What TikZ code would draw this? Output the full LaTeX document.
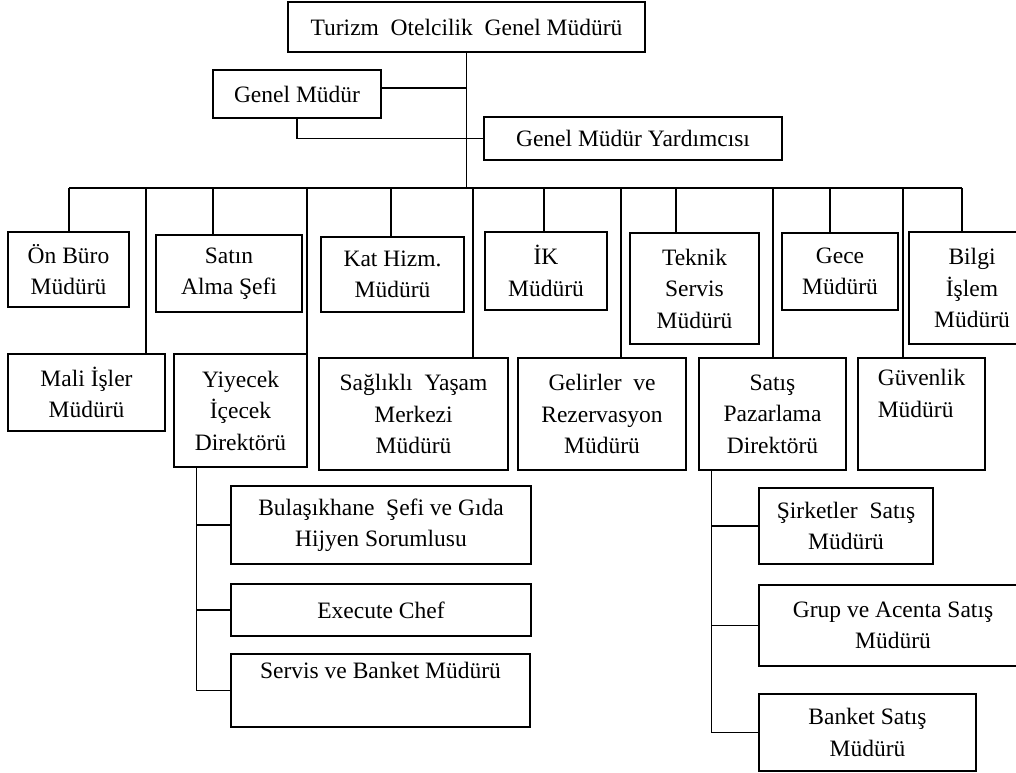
\documentclass[tikz,border=0pt]{standalone}
\usepackage{fontspec}
\setmainfont{Liberation Serif}

\begin{document}
\begin{tikzpicture}[
    x=1pt, y=-1pt,
    unit/.style={draw=black, line width=1.5pt, fill=white, align=center,
        inner sep=2pt, font=\fontsize{23.5}{31.5}\selectfont},
    edge/.style={line width=1.5pt, -}
]
    \useasboundingbox (0,0) rectangle (1016,772);
    \node[unit, minimum width=357pt, minimum height=50pt] (tom) at (466.5,27) {Turizm\ \ Otelcilik\ \ Genel Müdürü};
    \node[unit, minimum width=168pt, minimum height=48pt] (gm) at (297,94) {Genel Müdür};
    \node[unit, minimum width=298pt, minimum height=43pt] (gmy) at (633,138.5) {Genel Müdür Yardımcısı};
    \node[unit, minimum width=121pt, minimum height=75pt] (onburo) at (68.5,269.5) {Ön Büro\\Müdürü};
    \node[unit, minimum width=146pt, minimum height=77pt] (satin) at (229,273.5) {Satın\\Alma Şefi};
    \node[unit, minimum width=143pt, minimum height=75pt] (kat) at (392.5,274.5) {Kat Hizm.\\Müdürü};
    \node[unit, minimum width=122pt, minimum height=78pt] (ik) at (546,271) {İK\\Müdürü};
    \node[unit, minimum width=129pt, minimum height=111pt] (teknik) at (694.5,288.5) {Teknik\\Servis\\Müdürü};
    \node[unit, minimum width=116pt, minimum height=77pt] (gece) at (840,271.5) {Gece\\Müdürü};
    \node[unit, minimum width=126pt, minimum height=112pt] (bilgi) at (972,288) {Bilgi\\İşlem\\Müdürü};
    \node[unit, minimum width=157pt, minimum height=77pt] (mali) at (86.5,392.5) {Mali İşler\\Müdürü};
    \node[unit, minimum width=133pt, minimum height=113pt] (yiyecek) at (240.5,410.5) {Yiyecek\\İçecek\\Direktörü};
    \node[unit, minimum width=189pt, minimum height=112pt] (saglikli) at (413.5,414) {Sağlıklı\ \ Yaşam\\Merkezi\\Müdürü};
    \node[unit, minimum width=168pt, minimum height=112pt] (gelirler) at (602,414) {Gelirler\ \ ve\\Rezervasyon\\Müdürü};
    \node[unit, minimum width=147pt, minimum height=112pt] (satis) at (772.5,414) {Satış\\Pazarlama\\Direktörü};
    \node[unit, minimum width=127pt, minimum height=112pt, align=left] (guvenlik) at (921.5,414) {Güvenlik\\Müdürü\\\strut};
    \node[unit, minimum width=300pt, minimum height=78pt] (bulasik) at (381,525) {Bulaşıkhane\ \ Şefi ve Gıda\\Hijyen Sorumlusu};
    \node[unit, minimum width=300pt, minimum height=52pt] (execute) at (381,610) {Execute Chef};
    \node[unit, minimum width=299pt, minimum height=73pt] (servis) at (380.5,690.5) {Servis ve Banket Müdürü\\\strut};
    \node[unit, minimum width=174pt, minimum height=76pt] (sirketler) at (846,526) {Şirketler\ \ Satış\\Müdürü};
    \node[unit, minimum width=268pt, minimum height=81pt] (grup) at (893,625.5) {Grup ve Acenta Satış\\Müdürü};
    \node[unit, minimum width=217pt, minimum height=77pt] (banket) at (867.5,732.5) {Banket Satış\\Müdürü};
    % bus and trunk
    \coordinate (busL) at (69,188);
    \coordinate (busR) at (962,188);
    \draw[edge] (busL) -- (busR);
    \draw[edge] (tom) -- (tom |- busL);
    \draw[edge] ([yshift=6pt]gm.east) -- ([yshift=6pt]gm.east -| tom);
    \draw[edge] (gm) |- (gmy);
    \foreach \x/\n in {69/onburo, 213/satin, 391/kat, 544/ik, 676/teknik, 830/gece, 962/bilgi,
        146/mali, 307/yiyecek, 473/saglikli, 621/gelirler, 773/satis, 903/guvenlik}
        \draw[edge] (\x,188) -- (\x,188 |- \n.north);
    % sub units
    \coordinate (fb) at ([xshift=23pt]yiyecek.south west);
    \coordinate (sp) at ([xshift=13pt]satis.south west);
    \foreach \n in {bulasik, execute, servis}
        \draw[edge] (fb) |- (\n);
    \foreach \n in {sirketler, grup, banket}
        \draw[edge] (sp) |- (\n);
\end{tikzpicture}
\end{document}
